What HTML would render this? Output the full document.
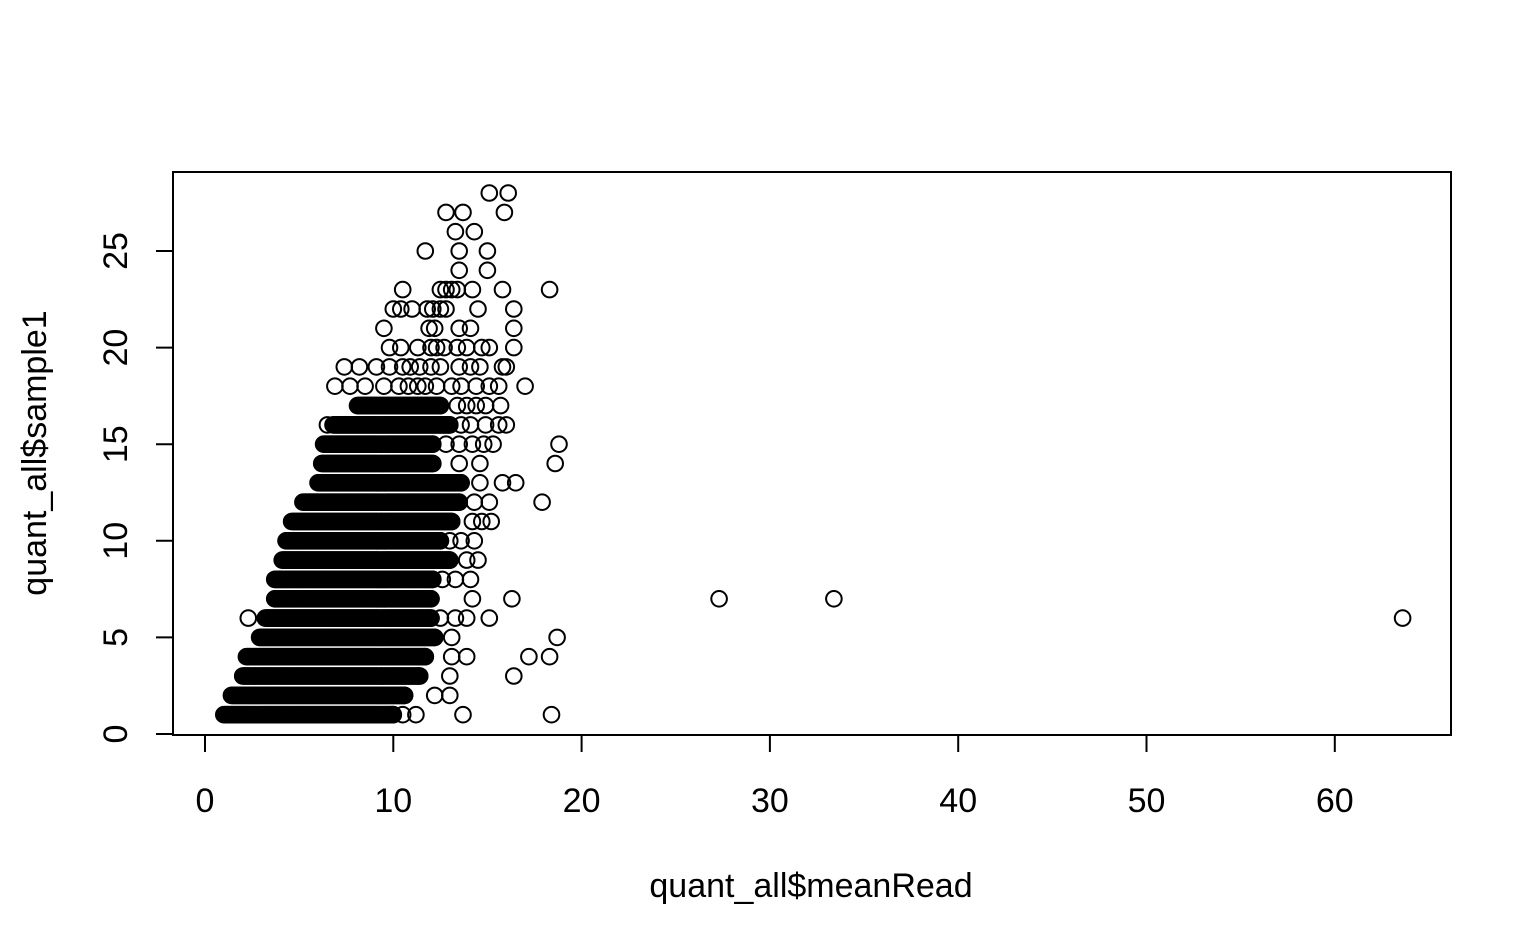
<!DOCTYPE html>
<html><head><meta charset="utf-8"><style>
html,body{margin:0;padding:0;background:#fff;}
svg{display:block;}
text{font-family:"Liberation Sans",sans-serif;font-size:34px;fill:#000;}
</style></head><body>
<svg id="chart" width="1540" height="951" viewBox="0 0 1540 951" xmlns="http://www.w3.org/2000/svg">
<rect x="0" y="0" width="1540" height="951" fill="#fff"/>
<g id="points"></g>
<rect x="173" y="172" width="1278" height="563" fill="none" stroke="#000" stroke-width="2"/>
<g id="axes"></g>
<text x="811" y="897" text-anchor="middle">quant_all$meanRead</text>
<text transform="translate(46,453) rotate(-90)" text-anchor="middle">quant_all$sample1</text>
</svg>
<script>
// dense runs (one per integer y level): y, start x, end x
const runY     = [1,   2,   3,   4,   5,   6,   7,   8,   9,   10,  11,  12,  13,  14,  15,  16,  17];
const runStart = [1.0, 1.4, 2.0, 2.2, 2.9, 3.2, 3.7, 3.7, 4.1, 4.3, 4.6, 5.2, 6.0, 6.2, 6.3, 6.8, 8.1];
const runEnd   = [10.0,10.6,11.4,11.7,12.2,12.0,12.0,12.1,13.0,12.5,13.1,13.5,13.6,12.1,12.1,13.0,12.5];
// sparse points
const sparseX = [10.5,11.2,13.7,18.4, 12.2,13.0, 13.0,16.4, 13.1,13.9,17.2,18.3, 13.1,18.7,
  2.3,12.5,13.3,13.9,15.1, 14.2,16.3,27.3,33.4, 12.6,13.3,14.1, 13.9,14.5, 13.0,13.6,14.3,
  14.2,14.7,15.2, 14.3,15.1,17.9, 14.6,15.8,16.5, 13.5,14.6,18.6, 12.8,13.5,14.2,14.8,15.3,18.8,
  63.6,
  6.5,13.6,14.1,14.9,15.6,16.0, 13.4,13.9,14.4,14.9,15.7,
  6.9,7.7,8.5,9.5,10.3,10.8,11.3,11.7,12.3,13.1,13.6,14.4,15.1,15.6,17.0,
  7.4,8.2,9.1,9.8,10.5,10.9,11.4,12.0,12.5,13.5,14.1,14.6,15.8,16.0,
  9.8,10.4,11.3,12.0,12.3,12.7,13.4,13.9,14.7,15.1,16.4,
  9.5,11.9,12.2,13.5,14.1,16.4,
  10.0,10.4,11.0,11.8,12.1,12.5,12.8,14.5,16.4,
  10.5,12.5,12.8,13.1,13.4,14.2,15.8,18.3,
  13.5,15.0, 11.7,13.5,15.0, 13.3,14.3, 12.8,13.7,15.9, 15.1,16.1];
const sparseY = [1,1,1,1, 2,2, 3,3, 4,4,4,4, 5,5,
  6,6,6,6,6, 7,7,7,7, 8,8,8, 9,9, 10,10,10,
  11,11,11, 12,12,12, 13,13,13, 14,14,14, 15,15,15,15,15,15,
  6,
  16,16,16,16,16,16, 17,17,17,17,17,
  18,18,18,18,18,18,18,18,18,18,18,18,18,18,18,
  19,19,19,19,19,19,19,19,19,19,19,19,19,19,
  20,20,20,20,20,20,20,20,20,20,20,
  21,21,21,21,21,21,
  22,22,22,22,22,22,22,22,22,
  23,23,23,23,23,23,23,23,
  24,24, 25,25,25, 26,26, 27,27,27, 28,28];
const xTicks = [0,10,20,30,40,50,60];
const yTicks = [0,5,10,15,20,25];

const xs = v => 205 + v * 18.83;
const ys = v => 734 - v * 19.32;
const NS = 'http://www.w3.org/2000/svg';
const pg = document.getElementById('points');
function pt(x, y, name) {
  const c = document.createElementNS(NS, 'circle');
  c.setAttribute('cx', xs(x).toFixed(1));
  c.setAttribute('cy', ys(y).toFixed(1));
  c.setAttribute('r', 7.8);
  c.setAttribute('fill', 'none');
  c.setAttribute('stroke', '#000');
  c.setAttribute('stroke-width', 2);
  
  
  pg.appendChild(c);
}
for (let i = 0; i < runY.length; i++) {
  for (let x = runStart[i]; x <= runEnd[i] + 1e-6; x += 0.05) pt(x, runY[i], 'point');
  pt(runEnd[i], runY[i], 'point');
}
for (let i = 0; i < sparseX.length; i++) pt(sparseX[i], sparseY[i], 'point');

const ag = document.getElementById('axes');
function line(x1, y1, x2, y2, name) {
  const l = document.createElementNS(NS, 'line');
  l.setAttribute('x1', x1); l.setAttribute('y1', y1);
  l.setAttribute('x2', x2); l.setAttribute('y2', y2);
  l.setAttribute('stroke', '#000'); l.setAttribute('stroke-width', 2);
  
  
  ag.appendChild(l);
}
function txt(s, x, y, rot, name) {
  const t = document.createElementNS(NS, 'text');
  t.textContent = s;
  t.setAttribute('text-anchor', 'middle');
  if (rot) t.setAttribute('transform', 'translate(' + x + ',' + y + ') rotate(-90)');
  else { t.setAttribute('x', x); t.setAttribute('y', y); }
  
  
  ag.appendChild(t);
}
line(xs(xTicks[0]), 735, xs(xTicks[xTicks.length - 1]), 735, 'x-axis-line');
xTicks.forEach(v => { line(xs(v), 735, xs(v), 752, 'x-tick'); txt(String(v), xs(v), 812, false, 'x-tick-label'); });
line(173, ys(yTicks[0]), 173, ys(yTicks[yTicks.length - 1]), 'y-axis-line');
yTicks.forEach(v => { line(173, ys(v), 156, ys(v), 'y-tick'); txt(String(v), 127, ys(v), true, 'y-tick-label'); });
</script>
</body></html>
